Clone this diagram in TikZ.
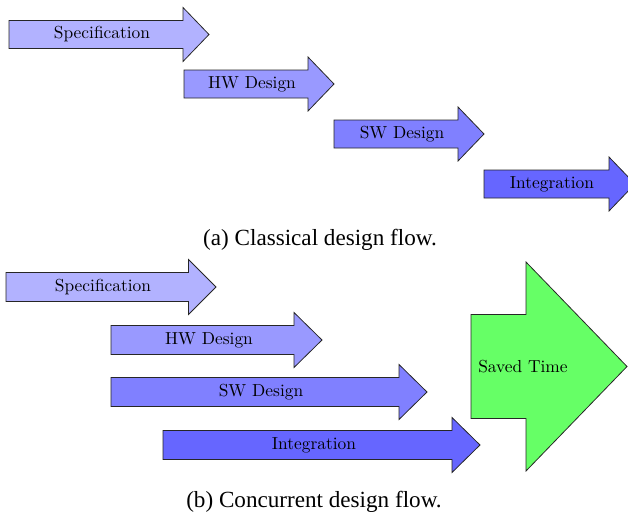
\documentclass[tikz,border=0pt]{standalone}
\usepackage{fontspec}
\newfontfamily\capfont{Liberation Serif}
\tikzset{
  flowshape/.style={draw=black!85, line width=0.45pt, line join=miter},
  flowtext/.style={inner sep=0pt, font=\fontsize{10}{12}\selectfont},
  captext/.style={inner sep=0pt, font=\capfont\fontsize{13.3}{16}\selectfont},
}
% #1 fill, #2 tail x, #3 neck x, #4 tip x, #5 axis y, #6 half shaft, #7 half head
\newcommand\flowarrow[7]{%
  \draw[flowshape, fill=#1]
    (#2,{#5-#6}) -- (#3,{#5-#6}) -- (#3,{#5-#7}) -- (#4,#5)
    -- (#3,{#5+#7}) -- (#3,{#5+#6}) -- (#2,{#5+#6}) -- cycle;}
\begin{document}
\begin{tikzpicture}[x=0.575pt, y=-0.575pt]
\useasboundingbox (0,0) rectangle (628,516);

% classical flow: one phase after the other
\flowarrow{blue!30}{9}{183}{209}{34.5}{14}{27}
\node[flowtext] (aspec) at (102,34.5) {Specification};
\flowarrow{blue!40}{184}{308}{334}{84}{14}{27}
\node[flowtext] (ahw) at (252,84) {HW Design};
\flowarrow{blue!50}{334}{458}{484}{134}{14}{27}
\node[flowtext] (asw) at (402,134) {SW Design};
\flowarrow{blue!60}{484}{609}{635}{184}{14}{27}
\node[flowtext] (aint) at (552,184) {Integration};
\node[captext] (capa) at (320,240) {(a) Classical design flow.};

% concurrent flow: overlapping phases
\flowarrow{blue!30}{6}{188.5}{216}{287}{14.5}{27.5}
\node[flowtext] (bspec) at (103,287) {Specification};
\flowarrow{blue!40}{111}{294}{322}{340}{14.5}{27.5}
\node[flowtext] (bhw) at (209,340) {HW Design};
\flowarrow{blue!50}{111}{399}{427}{392}{14.5}{27.5}
\node[flowtext] (bsw) at (261,392) {SW Design};
\flowarrow{blue!60}{163}{452}{480}{445}{14.5}{27.5}
\node[flowtext] (bint) at (314,445) {Integration};
\flowarrow{green!60}{471}{526}{627}{366.5}{52}{104.5}
\node[flowtext] (saved) at (523,367) {Saved Time};
\node[captext] (capb) at (314,502) {(b) Concurrent design flow.};
\end{tikzpicture}
\end{document}
